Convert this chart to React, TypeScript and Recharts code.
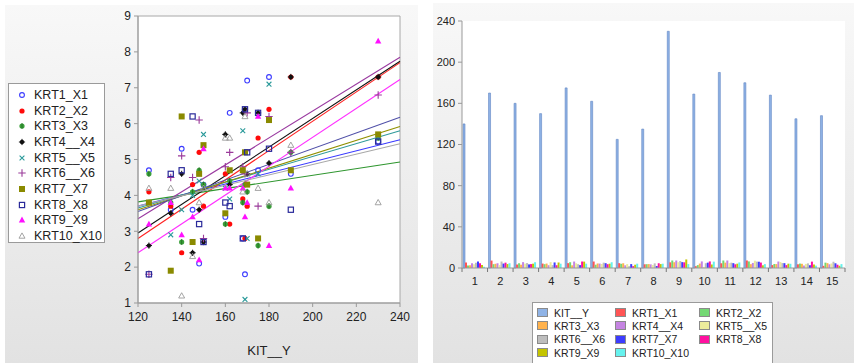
import {
  Bar,
  BarChart,
  CartesianGrid,
  ReferenceArea,
  ReferenceLine,
  Scatter,
  ScatterChart,
  XAxis,
  YAxis,
} from "recharts";

// categories 1..15 and the KIT__Y values (x of the scatter, tall bars on the right)
const categories = ["1", "2", "3", "4", "5", "6", "7", "8", "9", "10", "11", "12", "13", "14", "15"];
const kitY = [140, 170, 160, 150, 175, 162, 125, 135, 230, 169, 190, 180, 168, 145, 148];

const krt1 = [5.3, 7.2, 3.4, 4.3, 4.7, 6.3, 4.7, 3.6, 5.5, 1.8, 4.6, 7.3, 2.8, 3.6, 2.1];
const krt2 = [2.4, 3.7, 4.6, 3.7, 5.6, 3.2, 4.1, 3.7, 7.3, 2.8, 7.3, 6.4, 3.9, 4.3, 5.2];
const krt3 = [2.7, 4.1, 3.2, 4.3, 2.6, 4.4, 4.6, 3.8, 5.6, 4.3, 5.2, 3.7, 3.8, 4.1, 4.7];
const krt4 = [4.6, 4.6, 5.7, 2.7, 6.3, 4.3, 2.6, 3.5, 7.3, 6.4, 7.3, 4.9, 6.3, 2.4, 3.6];
const krt5 = [3.6, 2.8, 4.2, 5.7, 4.6, 3.9, 3.8, 2.9, 5.6, 1.1, 4.7, 7.1, 5.8, 4.0, 4.4];
const krt6 = [5.1, 6.3, 4.8, 2.8, 3.7, 5.2, 1.8, 4.5, 6.8, 4.6, 5.2, 6.2, 4.8, 4.5, 6.1];
const krt7 = [6.2, 4.3, 3.5, 5.4, 2.8, 4.7, 3.8, 1.9, 5.7, 5.2, 4.7, 6.1, 4.7, 2.7, 4.6];
const krt8 = [4.7, 5.2, 3.8, 2.7, 6.3, 3.7, 1.8, 4.6, 5.5, 6.4, 3.6, 5.3, 2.8, 6.2, 3.2];
const krt9 = [2.9, 3.8, 4.2, 5.3, 6.2, 4.2, 3.2, 3.8, 8.3, 3.4, 4.2, 2.6, 4.2, 3.4, 2.2];
const krt10 = [1.2, 4.6, 5.6, 4.2, 4.2, 5.6, 4.2, 4.2, 3.8, 6.2, 5.4, 3.8, 4.1, 2.3, 3.8];

const krtNames = [
  "KRT1_X1", "KRT2_X2", "KRT3_X3", "KRT4__X4", "KRT5__X5",
  "KRT6__X6", "KRT7_X7", "KRT8_X8", "KRT9_X9", "KRT10_X10",
];
const krtValues = [krt1, krt2, krt3, krt4, krt5, krt6, krt7, krt8, krt9, krt10];

// fitted lines, at x = 120 and x = 240
const fitAt120 = [3.7, 2.8, 3.82, 2.95, 3.65, 3.35, 3.6, 3.55, 2.4, 3.7];
const fitAt240 = [5.55, 7.7, 4.93, 7.74, 5.8, 7.85, 5.92, 6.18, 7.23, 5.44];

const xTicks = [120, 140, 160, 180, 200, 220, 240];
const yTicks = [1, 2, 3, 4, 5, 6, 7, 8, 9];
const barTicks = [0, 40, 80, 120, 160, 200, 240];

type Kind =
  | "openCircle" | "dot" | "ringDot" | "star" | "x"
  | "plus" | "square" | "openSquare" | "triangle" | "openTriangle";

const markerKinds: Kind[] = [
  "openCircle", "dot", "ringDot", "star", "x",
  "plus", "square", "openSquare", "triangle", "openTriangle",
];
const markerColors = [
  "#3b3bff", "#ff0a0a", "#3a9f3a", "#111111", "#2a9a9a",
  "#9a3a9a", "#8a8a00", "#2a2a9a", "#ff10ff", "#9a9a9a",
];
const lineColors = [
  "#3a3aff", "#ff2020", "#2f962f", "#111111", "#2f9a9a",
  "#9a3aa0", "#909000", "#5050a8", "#ff30ff", "#a8a8a8",
];

const barKeys = ["kit", "k1", "k2", "k3", "k4", "k5", "k6", "k7", "k8", "k9", "k10"];
const barNames = ["KIT__Y", ...krtNames];
const barColors = [
  "#8fb3e6", "#ff5555", "#74d874", "#ffb24d", "#c584e2", "#ecec9c",
  "#bdbdbd", "#3c3cff", "#ff10a0", "#c4c400", "#66f2ee",
];

const barData = categories.map((cat, i) => {
  const row: Record<string, string | number> = { cat, kit: kitY[i] };
  krtValues.forEach((vals, s) => {
    row[`k${s + 1}`] = vals[i];
  });
  return row;
});

const font = '"Liberation Sans", Arial, sans-serif';

function Marker({ kind, color, cx, cy }: { kind: Kind; color: string; cx: number; cy: number }) {
  switch (kind) {
    case "openCircle":
      return <circle cx={cx} cy={cy} r={2.4} fill="none" stroke={color} strokeWidth={1.1} />;
    case "dot":
      return <circle cx={cx} cy={cy} r={2.6} fill={color} />;
    case "ringDot":
      return (
        <g>
          <circle cx={cx} cy={cy} r={2.6} fill={color} />
          <line x1={cx} x2={cx} y1={cy - 3} y2={cy + 3} stroke="#1f6a1f" strokeWidth={0.8} />
        </g>
      );
    case "star":
      return (
        <g>
          <circle cx={cx} cy={cy} r={2.2} fill={color} />
          <path
            d={`M${cx - 3.1} ${cy}H${cx + 3.1}M${cx} ${cy - 3.1}V${cy + 3.1}`}
            stroke={color}
            strokeWidth={1}
          />
        </g>
      );
    case "x":
      return (
        <path
          d={`M${cx - 2.4} ${cy - 2.4}L${cx + 2.4} ${cy + 2.4}M${cx + 2.4} ${cy - 2.4}L${cx - 2.4} ${cy + 2.4}`}
          stroke={color}
          strokeWidth={1.1}
        />
      );
    case "plus":
      return (
        <path
          d={`M${cx - 3.7} ${cy}H${cx + 3.7}M${cx} ${cy - 3.7}V${cy + 3.7}`}
          stroke={color}
          strokeWidth={1.1}
        />
      );
    case "square":
      return <rect x={cx - 3} y={cy - 3} width={6} height={6} fill={color} />;
    case "openSquare":
      return (
        <rect x={cx - 2.6} y={cy - 2.6} width={5.2} height={5.2} fill="none" stroke={color} strokeWidth={1.2} />
      );
    case "triangle":
      return (
        <polygon
          points={`${cx},${cy - 3.4} ${cx + 3.2},${cy + 2.4} ${cx - 3.2},${cy + 2.4}`}
          fill={color}
        />
      );
    case "openTriangle":
      return (
        <polygon
          points={`${cx},${cy - 3.1} ${cx + 3},${cy + 2.2} ${cx - 3},${cy + 2.2}`}
          fill="none"
          stroke={color}
          strokeWidth={0.9}
        />
      );
  }
}

// tick for the category axis: label in the middle, tick mark on the band edges
function EdgeTick(props: any) {
  const { x, y, payload, index, visibleTicksCount } = props;
  const half = payload?.offset ?? 12.75;
  const axisY = y - 6;
  const last = index === visibleTicksCount - 1;
  return (
    <g>
      <line x1={x - half} x2={x - half} y1={axisY} y2={axisY + 4} stroke="#777" />
      {last && <line x1={x + half} x2={x + half} y1={axisY} y2={axisY + 4} stroke="#777" />}
      <text x={x} y={y + 3} dy="0.71em" textAnchor="middle" fontSize={11} fill="#222" fontFamily={font}>
        {payload.value}
      </text>
    </g>
  );
}

const panelBg = "linear-gradient(#f8f8f8, #e2e2e2)";

export default function App() {
  return (
    <div
      style={{
        position: "absolute",
        left: 0,
        top: 0,
        width: 854,
        height: 363,
        overflow: "hidden",
        background: "#fff",
        fontFamily: font,
      }}
    >
      <div style={{ position: "absolute", left: 5, top: 5, width: 413, height: 358, background: panelBg }} />
      <div style={{ position: "absolute", left: 433, top: 3, width: 421, height: 360, background: panelBg }} />

      {/* scatter with fitted lines */}
      <div style={{ position: "absolute", left: 0, top: 0 }}>
        <ScatterChart width={420} height={363} margin={{ top: 16, right: 20, bottom: 0, left: 108 }}>
          <CartesianGrid horizontal={false} vertical={false} fill="#fff" />
          <XAxis
            type="number"
            dataKey="x"
            domain={[120, 240]}
            ticks={xTicks}
            height={60}
            stroke="#999"
            tickSize={4}
            tickMargin={5}
            tick={{ fontSize: 12, fill: "#222", fontFamily: font }}
            label={{ value: "KIT__Y", position: "insideBottom", offset: 8, fontSize: 13, fill: "#222", fontFamily: font }}
          />
          <YAxis
            type="number"
            dataKey="y"
            domain={[1, 9]}
            ticks={yTicks}
            width={30}
            stroke="#999"
            tickSize={4}
            tickMargin={3}
            tick={{ fontSize: 12, fill: "#222", fontFamily: font }}
          />
          <ReferenceArea x1={120} x2={240} y1={1} y2={9} fill="none" stroke="#a8a8a8" />
          {krtValues.map((vals, s) => (
            <Scatter
              key={krtNames[s]}
              name={krtNames[s]}
              data={kitY.map((x, i) => ({ x, y: vals[i] }))}
              isAnimationActive={false}
              shape={(p: any) => <Marker kind={markerKinds[s]} color={markerColors[s]} cx={p.cx} cy={p.cy} />}
            />
          ))}
          {krtNames.map((n, s) => (
            <ReferenceLine
              key={`fit-${n}`}
              segment={[
                { x: 120, y: fitAt120[s] },
                { x: 240, y: fitAt240[s] },
              ]}
              stroke={lineColors[s]}
              strokeWidth={1.1}
            />
          ))}
        </ScatterChart>
      </div>

      {/* scatter legend */}
      <div
        style={{
          position: "absolute",
          left: 8,
          top: 83,
          width: 97,
          height: 160,
          background: "#fff",
          border: "1px solid #9a9a9a",
          paddingTop: 3,
          boxSizing: "border-box",
        }}
      >
        {krtNames.map((n, s) => (
          <div key={n} style={{ display: "flex", alignItems: "center", height: 15.7 }}>
            <svg width={24} height={14} style={{ flex: "none" }}>
              <Marker kind={markerKinds[s]} color={markerColors[s]} cx={13} cy={7} />
            </svg>
            <span style={{ fontSize: 12.5, color: "#222", marginLeft: 1 }}>{n}</span>
          </div>
        ))}
      </div>

      {/* grouped bars */}
      <div style={{ position: "absolute", left: 430, top: 0 }}>
        <BarChart
          width={424}
          height={363}
          data={barData}
          margin={{ top: 21, right: 9, bottom: 70, left: 4 }}
          barCategoryGap={1}
          barGap={0}
        >
          <CartesianGrid horizontal={false} vertical={false} fill="#fff" />
          <XAxis
            dataKey="cat"
            height={25}
            stroke="#999"
            tickLine={false}
            tickSize={2}
            tickMargin={4}
            interval={0}
            tick={<EdgeTick />}
          />
          <XAxis xAxisId="top" dataKey="cat" orientation="top" height={0} tick={false} tickLine={false} stroke="#c8c8c8" />
          <YAxis
            domain={[0, 240]}
            ticks={barTicks}
            width={28}
            stroke="#999"
            tickSize={4}
            tickMargin={3}
            tick={{ fontSize: 11, fill: "#222", fontFamily: font }}
          />
          <YAxis yAxisId="right" orientation="right" width={0} tick={false} tickLine={false} stroke="#c8c8c8" />
          {barKeys.map((k, s) => (
            <Bar
              key={k}
              dataKey={k}
              name={barNames[s]}
              fill={barColors[s]}
              stroke={s === 0 ? "#5f84c2" : undefined}
              strokeWidth={s === 0 ? 0.6 : 0}
              isAnimationActive={false}
            />
          ))}
        </BarChart>
      </div>

      {/* bar legend */}
      <div
        style={{
          position: "absolute",
          left: 532,
          top: 302,
          width: 241,
          height: 66,
          background: "#fff",
          border: "1px solid #9a9a9a",
          boxSizing: "border-box",
          padding: "3px 0 0 4px",
          display: "grid",
          gridTemplateColumns: "78px 84px 76px",
          gridAutoRows: 13.3,
        }}
      >
        {barNames.map((n, s) => (
          <div key={n} style={{ display: "flex", alignItems: "center" }}>
            <span
              style={{
                width: 11,
                height: 9,
                background: barColors[s],
                border: "1px solid #8a8a8a",
                boxSizing: "border-box",
                flex: "none",
              }}
            />
            <span style={{ fontSize: 10.5, color: "#222", marginLeft: 6, whiteSpace: "nowrap" }}>{n}</span>
          </div>
        ))}
      </div>
    </div>
  );
}
